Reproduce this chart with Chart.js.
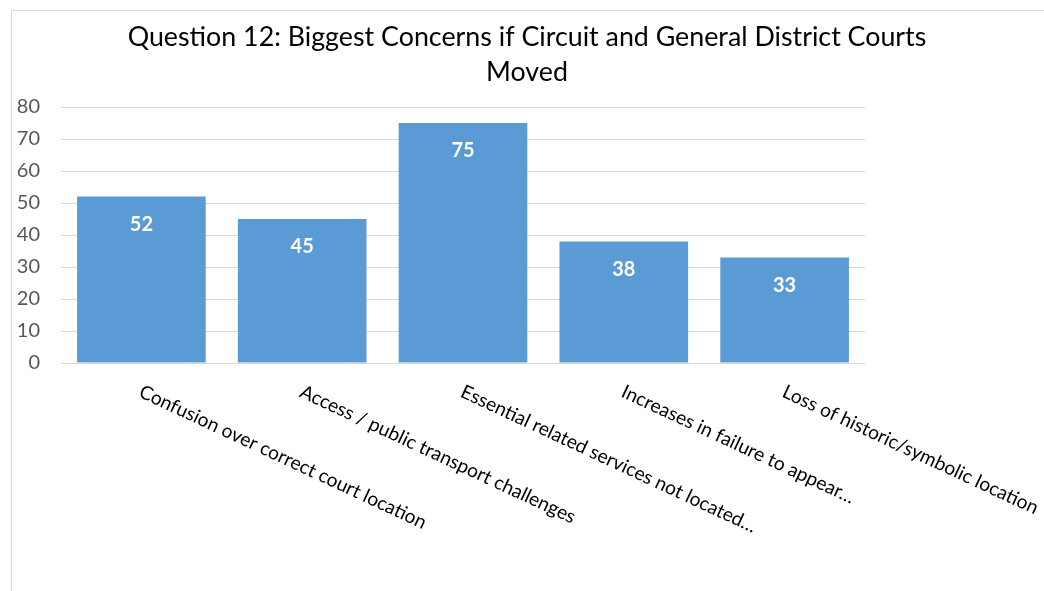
<!DOCTYPE html>
<html>
<head>
<meta charset="utf-8">
<script src="https://cdn.jsdelivr.net/npm/chart.js@4"></script>
<style>
  html, body { margin: 0; padding: 0; background: #fff; }
  #wrap { width: 1044px; height: 591px; position: relative; }
</style>
</head>
<body>
<div id="wrap"><canvas id="myChart" width="1044" height="591"></canvas></div>
<script>
// data
const categories = [
  'Confusion over correct court location',
  'Access / public transport challenges',
  'Essential related services not located…',
  'Increases in failure to appear…',
  'Loss of historic/symbolic location'
];
const responses = [52, 45, 75, 38, 33];
const yTicks = [0, 10, 20, 30, 40, 50, 60, 70, 80];
const titleLines = ['Question 12: Biggest Concerns if Circuit and General District Courts', 'Moved'];

const FONT = 'Lato, Calibri, Carlito, sans-serif';

// light grey frame round the chart (only the top and left edges show)
// and the title, centred on the whole frame rather than the plot
const framePlugin = {
  id: 'frame',
  beforeDraw(chart) {
    const ctx = chart.ctx;
    ctx.save();
    ctx.strokeStyle = '#d9d9d9';
    ctx.lineWidth = 1;
    ctx.beginPath();
    ctx.moveTo(11.5, chart.height);
    ctx.lineTo(11.5, 10.5);
    ctx.lineTo(chart.width, 10.5);
    ctx.stroke();

    ctx.fillStyle = '#000000';
    ctx.font = '26.8px ' + FONT;
    ctx.textAlign = 'center';
    ctx.textBaseline = 'middle';
    ctx.fillText(titleLines[0], 527, 37);
    ctx.fillText(titleLines[1], 527, 72);
    ctx.restore();
  }
};

// white value labels inside the top of each bar
const valuePlugin = {
  id: 'values',
  afterDatasetsDraw(chart) {
    const ctx = chart.ctx;
    const meta = chart.getDatasetMeta(0);
    ctx.save();
    ctx.fillStyle = '#ffffff';
    ctx.font = 'bold 20px ' + FONT;
    ctx.textAlign = 'center';
    ctx.textBaseline = 'middle';
    meta.data.forEach((bar, i) => {
      ctx.fillText(responses[i], bar.x, bar.y + 28);
    });
    ctx.restore();
  }
};

// category labels slanting down to the right, Excel style
const slantPlugin = {
  id: 'slant',
  afterDraw(chart) {
    const ctx = chart.ctx;
    const xs = chart.scales.x;
    const top = chart.chartArea.bottom + 19;
    ctx.save();
    ctx.fillStyle = '#000000';
    ctx.font = '19.2px ' + FONT;
    ctx.textAlign = 'left';
    ctx.textBaseline = 'top';
    categories.forEach((c, i) => {
      ctx.save();
      ctx.translate(xs.getPixelForValue(i) + 3, top);
      ctx.rotate(25 * Math.PI / 180);
      ctx.fillText(c, 0, 0);
      ctx.restore();
    });
    ctx.restore();
  }
};

new Chart(document.getElementById('myChart'), {
  type: 'bar',
  data: {
    labels: categories,
    datasets: [{
      label: 'Responses',
      data: responses,
      backgroundColor: '#5b9bd5',
      borderWidth: 0,
      barPercentage: 0.8,
      categoryPercentage: 1.0
    }]
  },
  options: {
    responsive: false,
    animation: false,
    layout: {
      padding: { left: 14, right: 179, top: 107, bottom: 228 }
    },
    plugins: {
      legend: { display: false },
      tooltip: { enabled: false },
      title: { display: false }
    },
    scales: {
      x: {
        display: false
      },
      y: {
        min: 0,
        max: 80,
        afterBuildTicks(scale) {
          scale.ticks = yTicks.map(v => ({ value: v }));
        },
        afterFit(scale) {
          scale.width = 47;
        },
        grid: { color: '#d9d9d9', lineWidth: 1, drawTicks: false },
        border: { display: false },
        ticks: {
          color: '#595959',
          font: { family: FONT, size: 20 },
          padding: 21
        }
      }
    }
  },
  plugins: [framePlugin, valuePlugin, slantPlugin]
});
</script>
</body>
</html>
